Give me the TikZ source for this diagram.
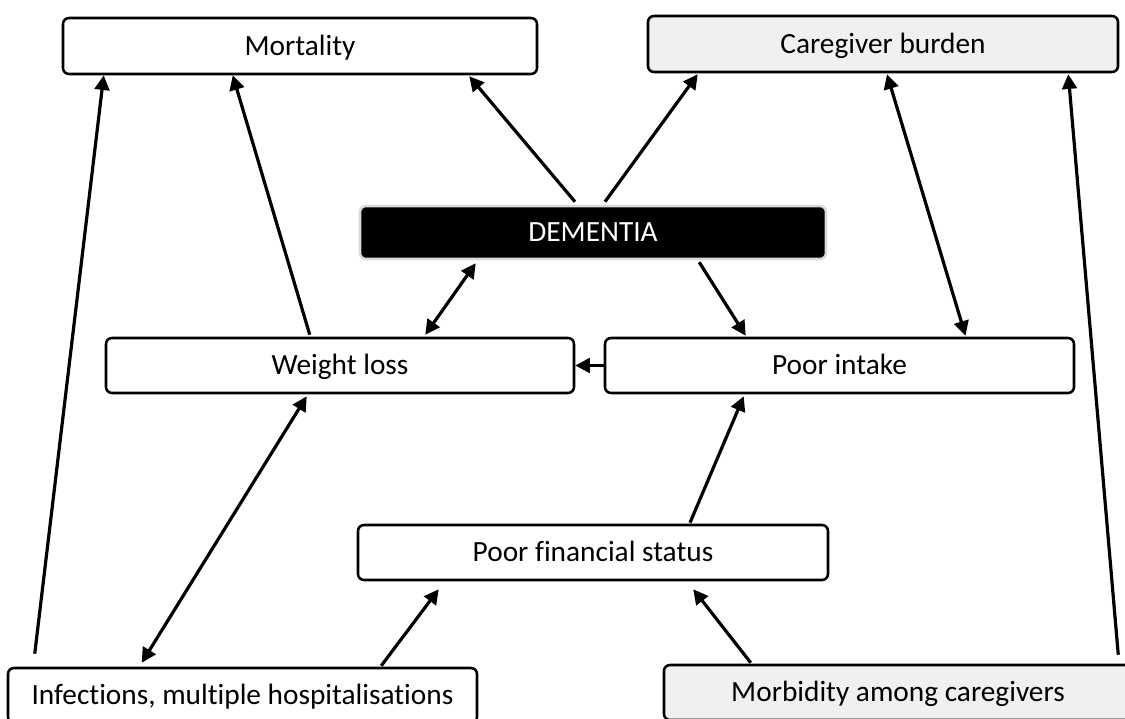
\documentclass[tikz,border=0pt]{standalone}
\usepackage{fontspec}
\setmainfont{Carlito}[Ligatures=NoCommon]
\usetikzlibrary{arrows.meta,calc}
\begin{document}
\begin{tikzpicture}[x=0.75pt,y=-0.75pt,
  box/.style={draw=black, rounded corners=4.5pt, line width=1.9pt, inner sep=0pt,
    minimum height={55*0.75pt}, text height=17pt, text depth=3pt,
    font=\fontsize{22}{26}\selectfont},
  graybox/.style={box, fill=black!6},
  darkbox/.style={box, fill=black, draw=black!15, text=white},
  arr/.style={line width=2.4pt, -{Triangle[length=11pt,width=11pt]}},
  darr/.style={line width=2.4pt, {Triangle[length=11pt,width=11pt]}-{Triangle[length=11pt,width=11pt]}}]
\useasboundingbox (0,0) rectangle (1125,718);
\node[box, minimum width={474*0.75pt}, minimum height={56*0.75pt}] (mort) at (300,46) {Mortality};
\node[graybox, minimum width={470*0.75pt}, minimum height={56*0.75pt}] (care) at (883,44) {Caregiver burden};
\node[darkbox, minimum width={466*0.75pt}, minimum height={53*0.75pt}] (dem) at (593,232.5) {DEMENTIA};
\node[box, minimum width={468*0.75pt}] (wl) at (340,365.5) {Weight loss};
\node[box, minimum width={469*0.75pt}] (pi) at (839.5,365.5) {Poor intake};
\node[box, minimum width={470*0.75pt}] (pfs) at (593,552.5) {Poor financial status};
\node[box, minimum width={469*0.75pt}] (inf) at (242.5,695.5) {Infections, multiple hospitalisations};
\node[graybox, minimum width={468*0.75pt}] (morb) at (898,692.5) {Morbidity among caregivers};
% connectors
\draw[arr] ($(inf.north west)+(28,-13)$) -- ($(mort.south west)+(42,0)$);
\draw[arr] ($(wl.north west)+(205,-2)$) -- ($(mort.south west)+(171,0)$);
\draw[arr] ($(dem.north)+(-18,-3)$) -- ($(mort.south east)+(-69,1)$);
\draw[arr] ($(dem.north)+(12,-3)$) -- ($(care.south west)+(51,1)$);
\draw[darr] ($(care.south)+(4,1)$) -- ($(pi.north)+(126,-1)$);
\draw[darr] ($(dem.south west)+(117,3)$) -- ($(wl.north east)+(-150,-2)$);
\draw[arr] ($(dem.south east)+(-128,2)$) -- ($(pi.north west)+(142,-1)$);
\draw[arr] (pi.west) -- (wl.east);
\draw[darr] ($(wl.south west)+(202,2)$) -- ($(inf.north west)+(135,-4)$);
\draw[arr] ($(inf.north east)+(-97,-1)$) -- ($(pfs.south west)+(82,8)$);
\draw[arr] ($(pfs.north)+(97,-1)$) -- ($(pi.south west)+(140,2)$);
\draw[arr] ($(morb.north west)+(88,-1)$) -- ($(pfs.south east)+(-136,8)$);
\draw[arr] ($(morb.north east)+(-15,-9)$) -- ($(care.south east)+(-51,1)$);
\end{tikzpicture}
\end{document}
